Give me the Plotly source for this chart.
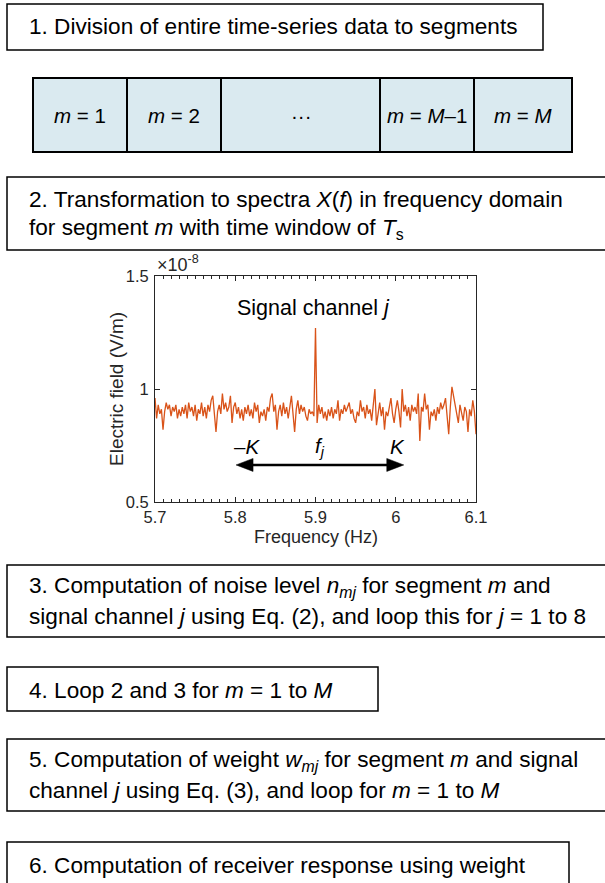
import plotly.graph_objects as go

W, H = 605, 883
FONT = "Liberation Sans, Arial, Helvetica, sans-serif"
AXC = "#262626"

# Spectrum around signal channel j (electric field, x1e-8 V/m), 0.002 Hz bins from 5.7 Hz
f_start, f_step = 5.7, 0.002
field = [
    0.96, 0.87, 0.93, 0.89, 0.91, 0.82, 0.90, 0.94, 0.91, 0.93,
    0.88, 0.92, 0.90, 0.93, 0.87, 0.91, 0.88, 0.92, 0.89, 0.93,
    0.87, 0.94, 0.90, 0.92, 0.88, 0.93, 0.86, 0.91, 0.89, 0.94,
    0.88, 0.92, 0.87, 0.93, 0.90, 0.95, 0.97, 0.88, 0.81, 0.90,
    0.93, 0.89, 0.98, 0.91, 0.94, 0.90, 0.92, 0.97, 0.85, 0.92,
    0.94, 0.89, 0.92, 0.87, 0.91, 0.86, 0.92, 0.89, 0.93, 0.88,
    0.91, 0.87, 0.94, 0.90, 0.93, 0.85, 0.90, 0.88, 0.91, 0.86,
    0.92, 0.90, 0.96, 0.98, 0.90, 0.93, 0.82, 0.90, 0.93, 0.88,
    0.94, 0.89, 0.92, 0.87, 0.93, 0.97, 0.89, 0.81, 0.91, 0.95,
    0.89, 0.93, 0.90, 0.92, 0.88, 0.86, 0.91, 0.89, 0.90, 0.88,
    1.27, 0.85, 0.93, 0.89, 0.92, 0.87, 0.90, 0.86, 0.91, 0.88,
    0.92, 0.87, 0.91, 0.89, 0.95, 0.86, 0.91, 0.89, 0.93, 0.90,
    0.92, 0.94, 0.89, 0.91, 0.87, 0.85, 0.90, 0.88, 0.95, 0.90,
    0.92, 0.87, 0.93, 0.89, 0.91, 0.86, 0.93, 1.00, 0.84, 0.90,
    0.94, 0.88, 0.92, 0.82, 0.90, 0.88, 0.93, 0.96, 0.89, 0.85,
    0.91, 0.95, 0.90, 0.83, 1.00, 0.90, 0.93, 0.88, 0.92, 0.86,
    0.93, 0.90, 0.92, 0.89, 0.98, 0.77, 0.92, 0.90, 0.98, 0.91,
    0.93, 0.82, 0.90, 0.88, 0.91, 0.86, 0.92, 0.89, 0.94, 0.91,
    0.93, 0.96, 0.88, 0.80, 0.92, 1.01, 0.97, 0.93, 0.90, 0.85,
    0.93, 0.89, 0.86, 0.92, 0.90, 0.81, 0.91, 0.88, 0.95, 0.90,
    0.80,
]
freq = [round(f_start + f_step * i, 3) for i in range(len(field))]

x_ticks = [5.7, 5.8, 5.9, 6.0, 6.1]
x_ticktext = ["5.7", "5.8", "5.9", "6", "6.1"]
y_ticks = [0.5, 1.0, 1.5]
y_ticktext = ["0.5", "1", "1.5"]

# noise window around f_j: from -K to +K
window_lo, window_hi = 5.801, 6.010
arrow_y = 0.664

segment_labels = ["<i>m</i> = 1", "<i>m</i> = 2", "···",
                  "<i>m</i> = <i>M</i>–1", "<i>m</i> = <i>M</i>"]

step_lines = [
    ["1. Division of entire time-series data to segments"],
    ["2. Transformation to spectra <i>X</i>(<i>f</i>) in frequency domain",
     "for segment <i>m</i> with time window of <i>T</i><sub>s</sub>"],
    ["3. Computation of noise level <i>n<sub>mj</sub></i> for segment <i>m</i> and",
     "signal channel <i>j</i> using Eq. (2), and loop this for <i>j</i> = 1 to 8"],
    ["4. Loop 2 and 3 for <i>m</i> = 1 to <i>M</i>"],
    ["5. Computation of weight <i>w<sub>mj</sub></i> for segment <i>m</i> and signal",
     "channel <i>j</i> using Eq. (3), and loop for <i>m</i> = 1 to <i>M</i>"],
    ["6. Computation of receiver response using weight"],
]

# box geometry in page pixels: (left, top, right, bottom)
step_boxes = [
    (7, 4, 543, 50),
    (7, 177, 640, 250),
    (7, 565, 640, 637),
    (7, 667, 378, 711),
    (7, 739, 640, 811),
    (7, 842, 569, 920),
]
seg_edges = [33, 127, 221, 380, 474, 572]
seg_top, seg_bot = 78, 152

# plot area in page pixels
PL, PR, PT, PB = 155, 476, 276, 502
X_RANGE = (5.7, 6.1)
Y_RANGE = (0.5, 1.5)


def px(x):
    return x / W


def py(y):
    return 1 - y / H


# pixel -> data unit conversion inside the spectrum axes (for arrowheads)
HZ_PER_PX = (X_RANGE[1] - X_RANGE[0]) / (PR - PL)
Y_PER_PX = (Y_RANGE[1] - Y_RANGE[0]) / (PB - PT)
HEAD_LEN = 17 * HZ_PER_PX
HEAD_HALF = 6.5 * Y_PER_PX

fig = go.Figure()
fig.add_trace(go.Scatter(x=freq, y=field, mode="lines",
                         line=dict(color="#D95319", width=1.3),
                         hoverinfo="skip", showlegend=False))

shapes = []
annotations = []

# segment bar
shapes.append(dict(type="rect", xref="paper", yref="paper",
                   x0=px(seg_edges[0]), x1=px(seg_edges[-1]),
                   y0=py(seg_bot), y1=py(seg_top),
                   fillcolor="#DAEAF0", line=dict(color="black", width=2),
                   layer="below"))
for e in seg_edges[1:-1]:
    shapes.append(dict(type="line", xref="paper", yref="paper",
                       x0=px(e), x1=px(e), y0=py(seg_bot), y1=py(seg_top),
                       line=dict(color="black", width=2)))
for i, lab in enumerate(segment_labels):
    cx = (seg_edges[i] + seg_edges[i + 1]) / 2
    annotations.append(dict(xref="paper", yref="paper", x=px(cx), y=py(115),
                            text=lab, showarrow=False, xanchor="center",
                            yanchor="middle",
                            font=dict(family=FONT, size=20.5, color="black")))

# step boxes with text
line_gap = 29.5
for (l, t, r, b), lines in zip(step_boxes, step_lines):
    shapes.append(dict(type="rect", xref="paper", yref="paper",
                       x0=px(l), x1=px(r), y0=py(b), y1=py(t),
                       line=dict(color="black", width=1.5),
                       fillcolor="rgba(0,0,0,0)", layer="below"))
    if len(lines) == 1:
        ys = [t + 23]
    else:
        ys = [t + 22, t + 22 + line_gap]
    for yy, txt in zip(ys, lines):
        annotations.append(dict(xref="paper", yref="paper", x=px(27), y=py(yy),
                                text=txt, showarrow=False, xanchor="left",
                                yanchor="middle",
                                font=dict(family=FONT, size=22.6, color="black")))

# double-headed arrow spanning -K .. K
shapes.append(dict(type="line", xref="x", yref="y",
                   x0=window_lo + HEAD_LEN * 0.8, x1=window_hi - HEAD_LEN * 0.8,
                   y0=arrow_y, y1=arrow_y,
                   line=dict(color="black", width=2.6)))
for tip, sgn in ((window_lo, 1), (window_hi, -1)):
    back = tip + sgn * HEAD_LEN
    shapes.append(dict(type="path", xref="x", yref="y",
                       path=(f"M {tip},{arrow_y} L {back},{arrow_y + HEAD_HALF} "
                             f"L {back},{arrow_y - HEAD_HALF} Z"),
                       fillcolor="black", line=dict(color="black", width=0.5)))

# spectrum annotations
annotations += [
    dict(xref="x", yref="y", x=5.897, y=1.36, text="Signal channel <i>j</i>",
         showarrow=False, font=dict(family=FONT, size=21.5, color="black")),
    dict(xref="x", yref="y", x=5.815, y=0.745, text="–<i>K</i>",
         showarrow=False, font=dict(family=FONT, size=20.5, color="black")),
    dict(xref="x", yref="y", x=5.905, y=0.745, text="<i>f<sub>j</sub></i>",
         showarrow=False, font=dict(family=FONT, size=20.5, color="black")),
    dict(xref="x", yref="y", x=6.002, y=0.745, text="<i>K</i>",
         showarrow=False, font=dict(family=FONT, size=20.5, color="black")),
    dict(xref="paper", yref="paper", x=px(155), y=py(PT), yshift=-1,
         text="×10<sup>-8</sup>", showarrow=False, xanchor="left",
         yanchor="bottom", font=dict(family=FONT, size=18, color=AXC)),
    dict(xref="paper", yref="paper", x=px((PL + PR) / 2), y=py(537),
         text="Frequency (Hz)", showarrow=False, xanchor="center",
         yanchor="middle", font=dict(family=FONT, size=18, color=AXC)),
    dict(xref="paper", yref="paper", x=px(116), y=py((PT + PB) / 2),
         text="Electric field (V/m)", showarrow=False, textangle=-90,
         xanchor="center", yanchor="middle",
         font=dict(family=FONT, size=19, color=AXC)),
]

fig.update_layout(
    width=W, height=H,
    margin=dict(l=0, r=0, t=0, b=0, pad=0, autoexpand=False),
    paper_bgcolor="white", plot_bgcolor="white",
    showlegend=False,
    shapes=shapes,
    annotations=annotations,
    xaxis=dict(domain=[px(PL), px(PR)], range=list(X_RANGE), automargin=False,
               tickvals=x_ticks, ticktext=x_ticktext,
               ticks="inside", ticklen=5, tickcolor=AXC, tickwidth=1,
               minor=dict(dtick=0.01, tick0=5.7, ticks="inside", ticklen=3,
                          tickcolor=AXC, showgrid=False),
               showline=True, linecolor=AXC, linewidth=1, mirror="ticks",
               showgrid=False, zeroline=False,
               tickfont=dict(family=FONT, size=16.5, color=AXC)),
    yaxis=dict(domain=[py(PB), py(PT)], range=list(Y_RANGE), automargin=False,
               tickvals=y_ticks, ticktext=y_ticktext,
               ticks="inside", ticklen=5, tickcolor=AXC, tickwidth=1,
               ticklabelstandoff=2,
               showline=True, linecolor=AXC, linewidth=1, mirror="ticks",
               showgrid=False, zeroline=False,
               tickfont=dict(family=FONT, size=16.5, color=AXC)),
)

fig.write_html("out.html")
